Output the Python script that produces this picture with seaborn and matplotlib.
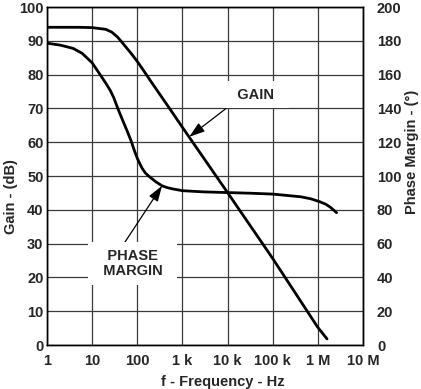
import numpy as np
import pandas as pd
import matplotlib
matplotlib.use("Agg")
import matplotlib.pyplot as plt
import seaborn as sns

# values
gain_freq = [1, 5, 10, 20, 27, 36, 45, 54, 76, 100, 138, 200, 300, 518,
             1e3, 1e4, 1e5, 1e6, 1.6e6]
gain_db = [94, 94, 93.9, 93.4, 92.6, 91.2, 89.7, 88.4, 86.0, 83.9, 81.2, 78.0, 74.6, 70.0,
           64.4, 45.1, 25.6, 5.2, 1.8]

phase_freq = [1, 2, 3.8, 6, 10, 15, 20, 25, 30, 37, 50, 60, 73.6, 85, 100, 115, 130, 150,
              178, 260, 354, 450, 600, 1e3, 3e3, 1e4, 3.3e4, 1e5, 4.2e5, 7e5, 1.1e6, 1.5e6,
              1.9e6, 2.6e6]
phase_deg = [178.6, 177.4, 175.5, 172.6, 167, 160, 155, 150.8, 146.5, 140, 131.5, 126.5,
             120.5, 115.5, 110.5, 107, 104.3, 101.9, 100, 96.5, 94.2, 93.2, 92.4, 91.3, 90.6,
             90.2, 89.8, 89.3, 87.7, 86.5, 84.8, 83.3, 81.5, 78.3]

freq_ticks = [1, 10, 100, 1e3, 1e4, 1e5, 1e6, 1e7]
freq_labels = ["1", "10", "100", "1 k", "10 k", "100 k", "1 M", "10 M"]
gain_ticks = list(range(0, 101, 10))
phase_ticks = list(range(0, 201, 20))

gain_df = pd.DataFrame({"f": gain_freq, "gain": gain_db})
phase_df = pd.DataFrame({"f": phase_freq, "phase": phase_deg})

sns.set_style("white")
plt.rcParams["font.family"] = ["Liberation Sans", "DejaVu Sans"]
plt.rcParams["font.weight"] = "bold"
fs = 10.5

fig = plt.figure(figsize=(4.21, 3.89), dpi=100)
ax = fig.add_axes([0.1116, 0.1131, 0.7506, 0.8689])
ax2 = ax.twinx()

sns.lineplot(data=gain_df, x="f", y="gain", ax=ax, color="black", linewidth=2.0)
sns.lineplot(data=phase_df, x="f", y="phase", ax=ax2, color="black", linewidth=2.0)

ax.set_xscale("log")
ax.set_xlim(1, 1e7)
ax.set_ylim(0, 100)
ax2.set_ylim(0, 200)
ax.set_xticks(freq_ticks)
ax.set_xticklabels(freq_labels)
ax.xaxis.set_minor_locator(matplotlib.ticker.NullLocator())
ax.set_yticks(gain_ticks)
ax2.set_yticks(phase_ticks)

ax.grid(True, which="major", color="#3a3a3a", linewidth=0.9)
ax.set_axisbelow(True)
ax.tick_params(axis="both", length=0, labelsize=fs)
ax.tick_params(axis="x", pad=6.5)
ax.tick_params(axis="y", pad=2.5)
ax2.tick_params(axis="y", length=0, labelsize=fs, pad=10)

for a in (ax, ax2):
    for s in a.spines.values():
        s.set_color("black")
        s.set_linewidth(1.0)

ax.set_xlabel("f - Frequency - Hz", fontsize=fs, fontweight="bold")
ax.set_ylabel("Gain - (dB)", fontsize=fs, fontweight="bold")
ax2.set_ylabel("Phase Margin - (°)", fontsize=fs, fontweight="bold")
ax.xaxis.set_label_coords(0.555, -0.089)
ax.yaxis.set_label_coords(-0.092, 0.438)
ax2.yaxis.set_label_coords(1.133, 0.571)

arrow = dict(arrowstyle="-|>,head_length=0.9,head_width=0.3", color="black",
             lw=0.9, shrinkA=0, shrinkB=0)
ax.annotate("  GAIN  ", xy=(1.42e3, 61.6), xytext=(4.13e4, 74.0), ha="center", va="center",
            fontsize=fs, fontweight="bold",
            bbox=dict(boxstyle="square,pad=0.45", fc="white", ec="none"),
            arrowprops=dict(arrow, relpos=(0.11, 0.0)), zorder=5)
ax.annotate("   PHASE   \n  MARGIN  ", xy=(354, 47.1), xytext=(79.4, 24.1),
            ha="center", va="center", multialignment="center",
            fontsize=fs, fontweight="bold", linespacing=1.15,
            bbox=dict(boxstyle="square,pad=0.45", fc="white", ec="none"),
            arrowprops=dict(arrow, relpos=(0.34, 1.0)), zorder=5)

fig.savefig("out.png", dpi=100)
